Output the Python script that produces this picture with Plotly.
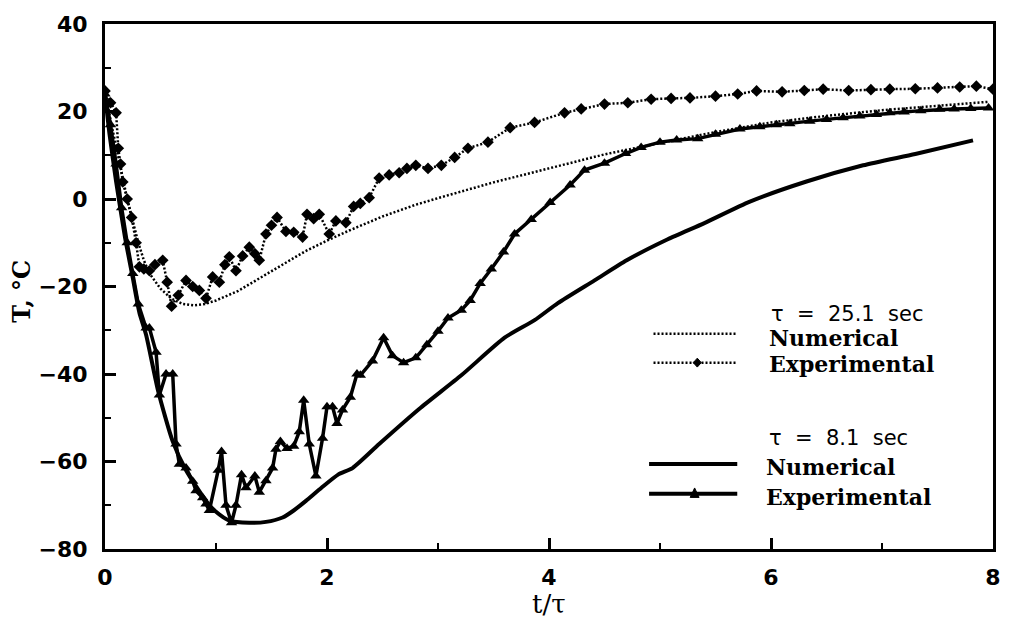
import plotly.graph_objects as go

# tau = 25.1 s, numerical solution
num25_x = [0.0, 0.05, 0.1, 0.15, 0.2, 0.25, 0.3, 0.35, 0.4, 0.5, 0.6, 0.7, 0.8, 0.9, 1.0,
           1.2, 1.4, 1.6, 1.8, 2.0, 2.2, 2.5, 2.8, 3.0, 3.5, 4.0, 4.5, 5.0, 5.5, 6.0,
           6.5, 7.0, 7.5, 7.95]
num25_y = [25, 18, 12, 6, 0, -5, -10, -14, -17, -20.5, -22.8, -24, -24.3, -24, -23.2,
           -21, -18, -15, -12, -9.5, -7.2, -4, -1.3, 0.2, 3.8, 7, 10.2, 12.8, 15.3, 17.5,
           19, 20.3, 21.3, 22.2]

# tau = 25.1 s, experimental
exp25_x = [0.0, 0.05, 0.1, 0.12, 0.14, 0.16, 0.2, 0.24, 0.28, 0.31, 0.35, 0.4, 0.45, 0.52,
           0.56, 0.6, 0.66, 0.73, 0.79, 0.85, 0.91, 0.97, 1.03, 1.08, 1.12, 1.18, 1.24,
           1.3, 1.35, 1.39, 1.45, 1.5, 1.55, 1.63, 1.7, 1.78, 1.82, 1.88, 1.93, 2.02, 2.08,
           2.17, 2.24, 2.3, 2.38, 2.47, 2.56, 2.65, 2.72, 2.8, 2.91, 3.03, 3.15, 3.27, 3.45,
           3.65, 3.87, 4.14, 4.29, 4.5, 4.71, 4.92, 5.1, 5.27, 5.5, 5.7, 5.87, 6.1, 6.3,
           6.47, 6.7, 6.9, 7.07, 7.3, 7.5, 7.7, 7.85, 8.0]
exp25_y = [24.7, 22, 19.7, 11.6, 8, 3.9, 0, -4.2, -10, -15.5, -16, -16.4, -15, -14,
           -19, -24.5, -22, -18.6, -20, -20.9, -22.7, -17.8, -19, -15, -13.2, -16.4, -13,
           -11, -12.5, -14, -8, -6, -4.2, -7.4, -7.6, -8.7, -3.5, -4.5, -3.5, -8, -5,
           -5.4, -1.7, -1, 0.3, 4.8, 5.5, 6, 7, 7.7, 7, 7.7, 9.5, 11.6, 13,
           16.3, 17.5, 19.7, 20.6, 21.7, 22, 22.8, 23, 23.1, 23.5, 24, 24.7, 24.5, 24.8,
           25.1, 24.8, 25, 25.1, 25.2, 25.4, 25.6, 25.8, 25.1]

# tau = 8.1 s, numerical solution
num8_x = [0.0, 0.04, 0.1, 0.18, 0.25, 0.31, 0.37, 0.48, 0.61, 0.73, 0.91, 1.0, 1.12, 1.3,
          1.45, 1.6, 1.7, 1.81, 1.95, 2.1, 2.23, 2.47, 2.83, 3.21, 3.6, 3.87, 4.08, 4.41,
          4.7, 5.07, 5.4, 5.81, 6.32, 6.83, 7.3, 7.82]
num8_y = [24, 15, 4, -8.7, -18, -26, -31, -44, -55.4, -62, -69, -71.5, -73.5, -74,
          -73.8, -72.8, -71.2, -69, -66, -63, -61.5, -56, -48, -40.3, -31.7, -27.7, -23.8, -18.6,
          -14, -9.2, -5.5, -0.6, 4, 7.7, 10.3, 13.4]

# tau = 8.1 s, experimental
exp8_x = [0.0, 0.05, 0.1, 0.15, 0.2, 0.25, 0.3, 0.37, 0.4, 0.46, 0.49, 0.55, 0.61, 0.64,
          0.67, 0.73, 0.79, 0.82, 0.88, 0.91, 0.94, 1.02, 1.05, 1.09, 1.14, 1.18, 1.23,
          1.27, 1.35, 1.39, 1.45, 1.51, 1.54, 1.58, 1.64, 1.7, 1.75, 1.79, 1.84, 1.9,
          1.96, 2.0, 2.05, 2.09, 2.14, 2.21, 2.27, 2.3, 2.41, 2.51, 2.59, 2.69, 2.8, 2.9,
          3.0, 3.09, 3.21, 3.29, 3.38, 3.48, 3.59, 3.69, 3.84, 4.01, 4.19, 4.32, 4.5, 4.69,
          4.83, 5.0, 5.15, 5.34, 5.5, 5.72, 5.9, 6.05, 6.17, 6.35, 6.5, 6.65, 6.8, 6.95,
          7.07, 7.2, 7.35, 7.52, 7.65, 7.8, 7.96]
exp8_y = [24, 17, 8, -2, -10, -17, -24, -29.5, -29.5, -35, -44.8, -40, -40, -56,
          -60.6, -61.5, -64.5, -66.7, -68.3, -69.7, -71.2, -62, -57.7, -70, -74, -70, -63,
          -66, -63.3, -67, -64.4, -61.5, -57.2, -55.4, -57, -56.5, -53.2, -46, -56, -63.3,
          -54.7, -47.5, -47.5, -51.3, -48.2, -45.3, -40, -40.3, -37, -31.7, -35.8, -37.4, -36.3, -33.3,
          -30.2, -27.2, -25.4, -23.2, -19.3, -16, -12.1, -8, -4.7, -0.8, 3.2, 6.6, 8.2, 10.4,
          11.8, 13, 13.5, 13.8, 14.8, 16, 16.5, 17, 17.2, 17.8, 18.2, 18.6, 19, 19.3,
          19.7, 19.9, 20.2, 20.5, 20.6, 20.7, 20.8]

x_ticks = [0, 2, 4, 6, 8]
y_ticks = [-80, -60, -40, -20, 0, 20, 40]

INK = "black"
DOTS = "2px,2px"

fig = go.Figure()
fig.add_trace(go.Scatter(x=num8_x, y=num8_y, mode="lines",
                         line=dict(color=INK, width=4, shape="spline", smoothing=0.6),
                         showlegend=False))
fig.add_trace(go.Scatter(x=exp8_x, y=exp8_y, mode="lines+markers",
                         line=dict(color=INK, width=3.5),
                         marker=dict(symbol="triangle-up", size=10, color=INK),
                         showlegend=False))
fig.add_trace(go.Scatter(x=num25_x, y=num25_y, mode="lines",
                         line=dict(color=INK, width=2.5, dash=DOTS), showlegend=False))
fig.add_trace(go.Scatter(x=exp25_x, y=exp25_y, mode="lines+markers",
                         line=dict(color=INK, width=2.5, dash=DOTS),
                         marker=dict(symbol="diamond", size=9, color=INK),
                         showlegend=False))

tick_font = dict(family="DejaVu Sans", size=22, color=INK, weight="bold")
axis_common = dict(showline=True, linewidth=3, linecolor=INK, mirror=True,
                   ticks="inside", tickwidth=3, ticklen=11, tickcolor=INK,
                   showgrid=False, zeroline=False, tickfont=tick_font)

fig.update_xaxes(range=[0, 8], tickvals=x_ticks, ticklabelstandoff=7,
                 minor=dict(ticks="inside", dtick=1, ticklen=6, tickwidth=2, tickcolor=INK),
                 **axis_common)
fig.update_yaxes(range=[-80, 40], tickvals=y_ticks, ticklabelstandoff=10,
                 minor=dict(ticks="inside", dtick=10, ticklen=6, tickwidth=2, tickcolor=INK),
                 **axis_common)

# legend block, drawn in paper coordinates
L0, L1 = 0.6177, 0.712
rows = {"n25": 0.4098, "e25": 0.355, "n8": 0.1617, "e8": 0.1053}
shapes = [
    dict(type="line", xref="paper", yref="paper", x0=L0, x1=L1, y0=rows["n25"], y1=rows["n25"],
         line=dict(color=INK, width=2.5, dash=DOTS)),
    dict(type="line", xref="paper", yref="paper", x0=L0, x1=L1, y0=rows["e25"], y1=rows["e25"],
         line=dict(color=INK, width=2.5, dash=DOTS)),
    dict(type="line", xref="paper", yref="paper", x0=L0 - 0.005, x1=L1, y0=rows["n8"], y1=rows["n8"],
         line=dict(color=INK, width=4)),
    dict(type="line", xref="paper", yref="paper", x0=L0 - 0.005, x1=L1, y0=rows["e8"], y1=rows["e8"],
         line=dict(color=INK, width=4)),
]
mx = 0.667
dx, dy = 0.0045, 0.0085
shapes.append(dict(type="path", xref="paper", yref="paper",
                   path=f"M {mx - dx} {rows['e25']} L {mx} {rows['e25'] + dy} L {mx + dx} {rows['e25']} "
                        f"L {mx} {rows['e25'] - dy} Z",
                   fillcolor=INK, line=dict(color=INK, width=1)))
mx8 = 0.664
shapes.append(dict(type="path", xref="paper", yref="paper",
                   path=f"M {mx8 - 0.005} {rows['e8'] - 0.007} L {mx8 + 0.005} {rows['e8'] - 0.007} "
                        f"L {mx8} {rows['e8'] + 0.011} Z",
                   fillcolor=INK, line=dict(color=INK, width=1)))

serif_b = dict(family="DejaVu Serif", size=22, color=INK, weight="bold")
sans = dict(family="DejaVu Sans", size=21, color=INK)

def px_to_paper_y(py):
    return (549 - py) / 532

def px_to_paper_x(px):
    return (px - 105) / 892

annotations = [
    dict(text="τ  =  25.1  sec", x=px_to_paper_x(772), y=px_to_paper_y(311), font=sans),
    dict(text="Numerical", x=px_to_paper_x(770), y=px_to_paper_y(335), font=serif_b),
    dict(text="Experimental", x=px_to_paper_x(770), y=px_to_paper_y(362), font=serif_b),
    dict(text="τ  =  8.1  sec", x=px_to_paper_x(770), y=px_to_paper_y(437), font=sans),
    dict(text="Numerical", x=px_to_paper_x(767), y=px_to_paper_y(466), font=serif_b),
    dict(text="Experimental", x=px_to_paper_x(767), y=px_to_paper_y(496), font=serif_b),
]
for a in annotations:
    a.update(xref="paper", yref="paper", xanchor="left", yanchor="middle", showarrow=False)

# axis titles
annotations.append(dict(text="t/τ", xref="paper", yref="paper", x=px_to_paper_x(551),
                        y=px_to_paper_y(605), xanchor="center", yanchor="middle", showarrow=False,
                        font=dict(family="DejaVu Serif", size=26, color=INK)))
annotations.append(dict(text="T, °C", xref="paper", yref="paper", x=px_to_paper_x(21),
                        y=px_to_paper_y(288), xanchor="center", yanchor="middle", showarrow=False,
                        textangle=-90,
                        font=dict(family="DejaVu Serif", size=24, color=INK, weight="bold")))

fig.update_layout(
    width=1013, height=629,
    margin=dict(l=105, r=16, t=17, b=80),
    paper_bgcolor="white", plot_bgcolor="white",
    shapes=shapes, annotations=annotations,
    showlegend=False,
)

fig.write_html("out.html")
